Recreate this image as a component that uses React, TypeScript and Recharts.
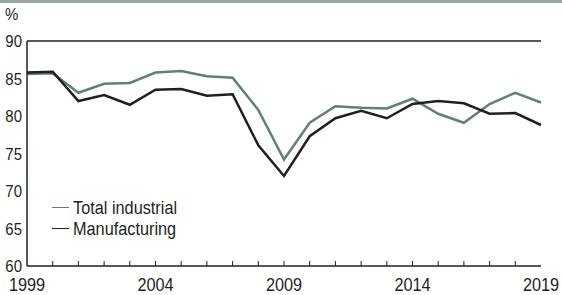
import React from "react";
import { LineChart, Line, XAxis, YAxis, ReferenceLine } from "recharts";

const years = [1999, 2000, 2001, 2002, 2003, 2004, 2005, 2006, 2007, 2008, 2009, 2010, 2011, 2012, 2013, 2014, 2015, 2016, 2017, 2018, 2019];
const totalIndustrial = [85.6, 85.7, 83.1, 84.3, 84.4, 85.8, 86.0, 85.3, 85.1, 80.8, 74.2, 79.1, 81.3, 81.1, 81.0, 82.3, 80.3, 79.1, 81.6, 83.1, 81.8];
const manufacturing = [85.8, 85.9, 82.0, 82.8, 81.5, 83.5, 83.6, 82.7, 82.9, 76.1, 72.0, 77.3, 79.7, 80.7, 79.7, 81.6, 82.0, 81.7, 80.3, 80.4, 78.8];
const yTicks = [60, 65, 70, 75, 80, 85, 90];
const xLabels = [1999, 2004, 2009, 2014, 2019];
const seriesNames = ["Total industrial", "Manufacturing"];

const data = years.map((y, i) => ({ year: y, total: totalIndustrial[i], manuf: manufacturing[i] }));

const FONT = "'Liberation Sans', Arial, sans-serif";
const GREEN = "#5f807b";
const BLACK = "#231f20";
const SX = 0.88;

const XTick = (props: any) => {
  const { x, y, payload } = props;
  const v = payload.value;
  return (
    <g>
      {v !== 1999 && v !== 2019 && <line x1={x} x2={x} y1={y} y2={y - 5} stroke={BLACK} strokeWidth={1} />}
      {xLabels.includes(v) && (
        <text
          transform={`translate(${x},${y + 25}) scale(${SX},1)`}
          x={0}
          y={0}
          textAnchor="middle"
          fontSize={18.5}
          fontFamily={FONT}
          fill={BLACK}
        >
          {v}
        </text>
      )}
    </g>
  );
};

const YTick = (props: any) => {
  const { x, y, payload } = props;
  return (
    <text
      transform={`translate(${x},${y + 6}) scale(${SX},1)`}
      x={0}
      y={0}
      textAnchor="end"
      fontSize={17}
      fontFamily={FONT}
      fill={BLACK}
    >
      {payload.value}
    </text>
  );
};

export default function App() {
  return (
    <div style={{ position: "absolute", left: 0, top: 0, width: 562, height: 295, background: "#fff" }}>
      <div style={{ position: "absolute", left: 0, top: 0, width: 562, height: 3, background: "#97a5a5" }} />
      <div style={{ position: "absolute", left: 5, top: 5, fontFamily: FONT, fontSize: 17, color: BLACK, transform: `scaleX(${SX})`, transformOrigin: "left top" }}>%</div>
      <LineChart width={562} height={295} data={data} margin={{ top: 41, right: 21, left: 0, bottom: 0 }}>
        <XAxis
          dataKey="year"
          type="number"
          domain={[1999, 2019]}
          ticks={years}
          interval={0}
          tickLine={false}
          tickSize={0}
          tickMargin={0}
          tick={<XTick />}
          height={29}
          axisLine={{ stroke: BLACK, strokeWidth: 1.5 }}
        />
        <YAxis
          domain={[60, 90]}
          ticks={yTicks}
          interval={0}
          width={27}
          tickLine={false}
          tickSize={0}
          tickMargin={5}
          tick={<YTick />}
          axisLine={{ stroke: BLACK, strokeWidth: 1.5 }}
        />
        <YAxis yAxisId="r" orientation="right" width={0} tick={false} tickLine={false} axisLine={{ stroke: BLACK, strokeWidth: 1.5 }} />
        <ReferenceLine y={90} stroke={BLACK} strokeWidth={1.5} />
        <Line dataKey="total" name={seriesNames[0]} stroke={GREEN} strokeWidth={2.5} dot={false} isAnimationActive={false} />
        <Line dataKey="manuf" name={seriesNames[1]} stroke={BLACK} strokeWidth={2.5} dot={false} isAnimationActive={false} />
      </LineChart>
      <div style={{ position: "absolute", left: 52, top: 197, fontFamily: FONT, fontSize: 18.5, color: BLACK, lineHeight: "21px" }}>
        {seriesNames.map((n, i) => (
          <div key={n} style={{ display: "flex", alignItems: "center" }}>
            <span style={{ display: "inline-block", width: 17, height: 1.5, background: i === 0 ? GREEN : BLACK, marginRight: 4 }} />
            <span style={{ display: "inline-block", transform: `scaleX(${SX})`, transformOrigin: "left center" }}>{n}</span>
          </div>
        ))}
      </div>
    </div>
  );
}
